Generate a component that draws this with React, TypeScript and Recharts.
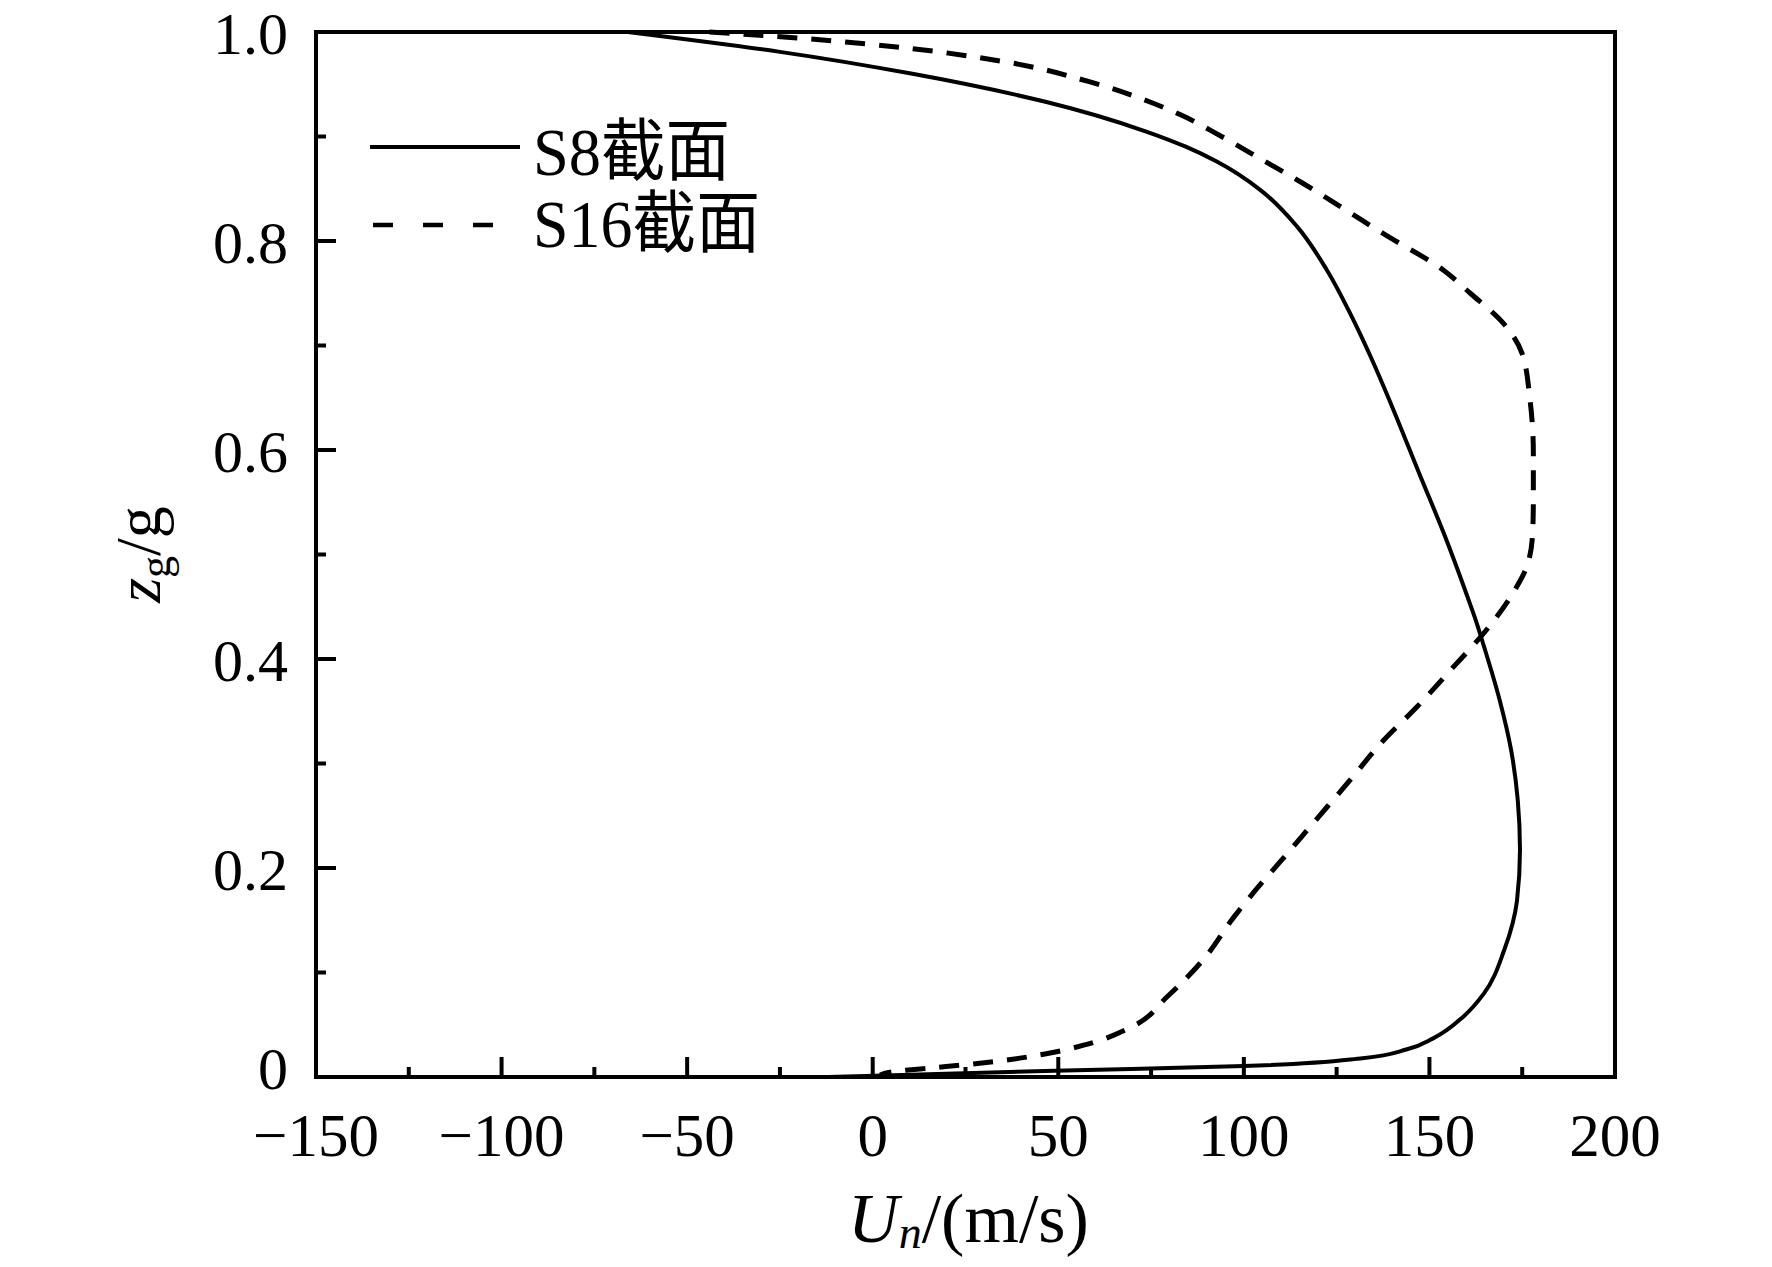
import React from "react";
import { LineChart, Line, XAxis, YAxis, Legend, Label } from "recharts";

const SERIF = "'Liberation Serif', 'Times New Roman', 'Noto Sans CJK SC', serif";

// axis ticks (minor every 25 / 0.1, labels on majors)
const xTicks = [-150, -125, -100, -75, -50, -25, 0, 25, 50, 75, 100, 125, 150, 175, 200];
const xMajor = [-150, -100, -50, 0, 50, 100, 150, 200];
const xTickLabels = ["−150", "−100", "−50", "0", "50", "100", "150", "200"];
const yTicks = [0, 0.1, 0.2, 0.3, 0.4, 0.5, 0.6, 0.7, 0.8, 0.9, 1.0];
const yMajor = [0, 0.2, 0.4, 0.6, 0.8, 1.0];
const yTickLabels = ["0", "0.2", "0.4", "0.6", "0.8", "1.0"];

const seriesNames = ["S8截面", "S16截面"];

// S8 profile, read top to bottom
const s8Z = [1.0, 0.981, 0.96, 0.933, 0.905, 0.89, 0.876, 0.849, 0.814, 0.772, 0.731, 0.689, 0.641, 0.578, 0.52, 0.46, 0.44, 0.412, 0.361, 0.313, 0.265, 0.217, 0.169, 0.122, 0.08, 0.058, 0.037, 0.0265, 0.018, 0.0105, 0.006, 0.002, 0.0];
const s8U = [-66, -25, 10.7, 46.8, 73.5, 84.5, 92.7, 104.4, 114.3, 122.4, 128.6, 134.2, 140.0, 147.2, 153.9, 160.2, 162.2, 164.7, 168.9, 172.0, 173.8, 174.4, 173.6, 170.2, 164.7, 159.2, 151.0, 144.0, 132.0, 100.0, 49.0, 8.0, -12.0];

// S16 profile, read top to bottom
const s16Z = [1.0, 0.994, 0.984, 0.972, 0.952, 0.933, 0.921, 0.9, 0.878, 0.855, 0.83, 0.807, 0.772, 0.75, 0.721, 0.693, 0.648, 0.597, 0.552, 0.52, 0.488, 0.466, 0.428, 0.389, 0.354, 0.322, 0.284, 0.243, 0.206, 0.189, 0.153, 0.112, 0.077, 0.048, 0.031, 0.022, 0.0147, 0.0083, 0.005, 0.002];
const s16U = [-44, -19.3, 10.7, 34.8, 58.8, 74.7, 82.8, 94.0, 104.8, 116.0, 127.3, 137.6, 153.8, 161.0, 170.0, 174.9, 177.1, 178.0, 178.0, 177.8, 176.2, 173.0, 165.4, 155.6, 146.6, 137.6, 128.6, 118.7, 109.8, 105.6, 97.3, 89.0, 79.4, 69.8, 57.4, 46.4, 32.7, 14.8, 5.2, 2.0];

const s8Data = s8Z.map((z, i) => ({ u: s8U[i], z }));
const s16Data = s16Z.map((z, i) => ({ u: s16U[i], z }));

const XTick = (props: any) => {
  const { x, y, payload } = props;
  const idx = xMajor.indexOf(payload.value);
  const major = idx >= 0;
  return (
    <g>
      <line x1={x} x2={x} y1={y} y2={y - (major ? 20 : 10)} stroke="#000" strokeWidth={4} />
      {major && (
        <text x={x} y={y + 79} textAnchor="middle" fontSize={61} fontFamily={SERIF} fill="#000">
          {xTickLabels[idx]}
        </text>
      )}
    </g>
  );
};

const YTick = (props: any) => {
  const { x, y, payload } = props;
  const idx = yMajor.findIndex((v) => Math.abs(v - payload.value) < 1e-6);
  const major = idx >= 0;
  return (
    <g>
      <line x1={x} x2={x + (major ? 20 : 10)} y1={y} y2={y} stroke="#000" strokeWidth={4} />
      {major && (
        <text x={x - 28} y={y + (idx === 0 ? 12 : 22)} textAnchor="end" fontSize={60} fontFamily={SERIF} fill="#000">
          {yTickLabels[idx]}
        </text>
      )}
    </g>
  );
};

const XTitle = (props: any) => {
  const vb = props.viewBox || { x: 316, y: 1077, width: 1299 };
  return (
    <text x={vb.x + vb.width / 2 + 3} y={1242} textAnchor="middle" fontSize={70} fontFamily={SERIF} fill="#000">
      <tspan fontStyle="italic">U</tspan>
      <tspan fontStyle="italic" fontSize={46} dy={6}>n</tspan>
      <tspan dy={-6}>/(m/s)</tspan>
    </text>
  );
};

const YTitle = (props: any) => {
  const vb = props.viewBox || { x: 315, y: 32, height: 1045 };
  const cx = 160;
  const cy = vb.y + vb.height / 2;
  return (
    <text x={cx} y={cy} transform={`rotate(-90, ${cx}, ${cy})`} textAnchor="middle" fontSize={64} fontFamily={SERIF} fill="#000">
      <tspan fontStyle="italic">z</tspan>
      <tspan fontSize={44} dy={10}>g</tspan>
      <tspan dy={-10}>/g</tspan>
    </text>
  );
};

const LegendBox = () => (
  <svg width={440} height={180} style={{ overflow: "visible" }}>
    <line x1={10} x2={160} y1={47} y2={47} stroke="#000" strokeWidth={4} />
    <line x1={13} x2={133} y1={125} y2={125} stroke="#000" strokeWidth={4.5} strokeDasharray="20 30" />
    <text x={173} y={75} fontSize={68} fontFamily={SERIF} fill="#000" textLength={197} lengthAdjust="spacingAndGlyphs">
      {seriesNames[0]}
    </text>
    <text x={173} y={147} fontSize={68} fontFamily={SERIF} fill="#000" textLength={227} lengthAdjust="spacingAndGlyphs">
      {seriesNames[1]}
    </text>
  </svg>
);

const frameLine = { stroke: "#000", strokeWidth: 4, strokeLinecap: "square" };

export default function App() {
  return (
    <div style={{ position: "absolute", left: 0, top: 0, background: "#fff", fontFamily: SERIF }}>
      <LineChart width={1772} height={1267} margin={{ top: 31, right: 156, bottom: 189, left: 315 }}>
        <XAxis
          type="number"
          dataKey="u"
          domain={[-150, 200]}
          ticks={xTicks}
          interval={0}
          height={1}
          tickSize={0}
          tickMargin={0}
          tickLine={false}
          tick={<XTick />}
          axisLine={frameLine}
        >
          <Label content={<XTitle />} />
        </XAxis>
        <XAxis
          xAxisId="top"
          orientation="top"
          type="number"
          domain={[-150, 200]}
          height={1}
          tick={false}
          tickLine={false}
          axisLine={frameLine}
        />
        <YAxis
          type="number"
          domain={[0, 1]}
          ticks={yTicks}
          interval={0}
          width={1}
          tickSize={0}
          tickMargin={0}
          tickLine={false}
          tick={<YTick />}
          axisLine={frameLine}
        >
          <Label content={<YTitle />} />
        </YAxis>
        <YAxis
          yAxisId="right"
          orientation="right"
          type="number"
          domain={[0, 1]}
          width={1}
          tick={false}
          tickLine={false}
          axisLine={frameLine}
        />
        <Legend
          layout="horizontal"
          verticalAlign="middle"
          align="center"
          wrapperStyle={{ position: "absolute", left: 360, top: 100, width: 440, height: 180 }}
          content={() => <LegendBox />}
        />
        <Line
          data={s8Data}
          dataKey="z"
          name={seriesNames[0]}
          type="monotoneY"
          stroke="#000"
          strokeWidth={4}
          dot={false}
          isAnimationActive={false}
        />
        <Line
          data={s16Data}
          dataKey="z"
          name={seriesNames[1]}
          type="monotoneY"
          stroke="#000"
          strokeWidth={5}
          strokeDasharray="20 14"
          dot={false}
          isAnimationActive={false}
        />
      </LineChart>
    </div>
  );
}
